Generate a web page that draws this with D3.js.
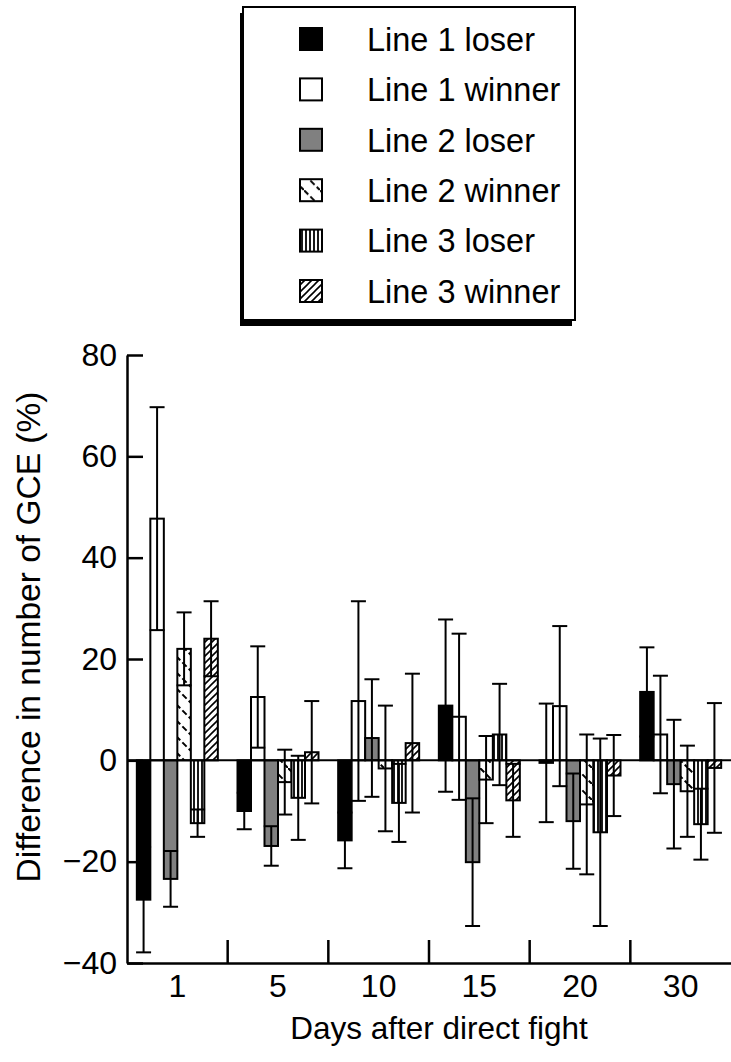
<!DOCTYPE html>
<html>
<head>
<meta charset="utf-8">
<script src="https://cdn.jsdelivr.net/npm/d3@7"></script>
<style>
    body { margin: 0; background: #fff; }
    svg { display: block; font-family: Arial, "Liberation Sans", Helvetica, sans-serif; }
</style>
</head>
<body>
<svg id="chart"></svg>
<script>
// days after the fight (x categories / tick labels)
const days = ['1', '5', '10', '15', '20', '30'];
const seriesNames = ['Line 1 loser', 'Line 1 winner', 'Line 2 loser', 'Line 2 winner', 'Line 3 loser', 'Line 3 winner'];

// means (%) per day
const line1Loser  = [-27.5, -10.0, -15.8, 10.8, -0.5, 13.5];
const line1Winner = [47.7, 12.5, 11.7, 8.6, 10.7, 5.1];
const line2Loser  = [-23.4, -16.9, 4.4, -20.1, -12.0, -4.7];
const line2Winner = [22.0, -4.3, -1.6, -3.8, -8.7, -6.1];
const line3Loser  = [-12.4, -7.4, -8.4, 5.1, -14.2, -12.6];
const line3Winner = [24.0, 1.6, 3.4, -7.9, -3.0, -1.5];

// standard errors
const line1LoserSe  = [10.4, 3.6, 5.5, 17.0, 11.7, 8.8];
const line1WinnerSe = [22.0, 10.0, 19.7, 16.4, 15.8, 11.6];
const line2LoserSe  = [5.5, 3.9, 11.6, 12.6, 9.4, 12.7];
const line2WinnerSe = [7.2, 6.4, 12.4, 8.6, 13.8, 9.0];
const line3LoserSe  = [2.7, 8.3, 7.7, 10.0, 18.5, 7.0];
const line3WinnerSe = [7.4, 10.1, 13.7, 7.2, 8.0, 12.8];

const yTicks = [-40, -20, 0, 20, 40, 60, 80];

(function () {
    const width = 731;
    const height = 1062;

    const means = [line1Loser, line1Winner, line2Loser, line2Winner, line3Loser, line3Winner];
    const ses = [line1LoserSe, line1WinnerSe, line2LoserSe, line2WinnerSe, line3LoserSe, line3WinnerSe];
    const fills = ['#000', '#fff', '#808080', 'url(#pat-l2w)', 'url(#pat-l3l)', 'url(#pat-l3w)'];

    const rows = [];
    seriesNames.forEach((name, si) => {
        days.forEach((day, di) => {
            rows.push({ day, name, mean: means[si][di], se: ses[si][di], fill: fills[si] });
        });
    });

    const svg = d3.select('#chart')
        .attr('width', width)
        .attr('height', height);

    // hatch patterns
    const defs = svg.append('defs');

    const p2w = defs.append('pattern')
        .attr('id', 'pat-l2w')
        .attr('patternUnits', 'userSpaceOnUse')
        .attr('width', 16)
        .attr('height', 16);
    p2w.append('rect').attr('width', 16).attr('height', 16).attr('fill', '#fff');
    p2w.append('path')
        .attr('d', 'M0,0L16,16')
        .attr('stroke', '#000')
        .attr('stroke-width', 2)
        .attr('stroke-dasharray', '6 3');

    const p3l = defs.append('pattern')
        .attr('id', 'pat-l3l')
        .attr('patternUnits', 'userSpaceOnUse')
        .attr('width', 4)
        .attr('height', 4);
    p3l.append('rect').attr('width', 4).attr('height', 4).attr('fill', '#fff');
    p3l.append('path')
        .attr('d', 'M2,0V4')
        .attr('stroke', '#000')
        .attr('stroke-width', 1.8);

    const p3w = defs.append('pattern')
        .attr('id', 'pat-l3w')
        .attr('patternUnits', 'userSpaceOnUse')
        .attr('width', 7)
        .attr('height', 7);
    p3w.append('rect').attr('width', 7).attr('height', 7).attr('fill', '#fff');
    p3w.append('path')
        .attr('d', 'M-1,1L1,-1M0,7L7,0M6,8L8,6')
        .attr('stroke', '#000')
        .attr('stroke-width', 1.6);

    // scales
    const x0 = d3.scaleBand()
        .domain(days)
        .range([127, 731]);

    const x1 = d3.scaleBand()
        .domain(seriesNames)
        .range([-40.5, 40.5]);

    const yScale = d3.scaleLinear()
        .domain([-40, 80])
        .range([963, 355]);

    const cx = d => x0(d.day) + x0.bandwidth() / 2 + x1(d.name);

    // bars
    svg.append('g')
        .selectAll('rect')
        .data(rows)
        .join('rect')
        .attr('x', d => cx(d))
        .attr('y', d => yScale(Math.max(0, d.mean)))
        .attr('width', x1.bandwidth())
        .attr('height', d => Math.abs(yScale(d.mean) - yScale(0)))
        .attr('fill', d => d.fill)
        .attr('stroke', '#000')
        .attr('stroke-width', 2);

    // error bars
    const capW = x1.bandwidth() + 1.5;
    const err = svg.append('g')
        .attr('stroke', '#000')
        .attr('stroke-width', 2)
        .selectAll('g')
        .data(rows)
        .join('g')
        .attr('transform', d => `translate(${cx(d) + x1.bandwidth() / 2},0)`);

    err.append('line')
        .attr('y1', d => yScale(d.mean - d.se))
        .attr('y2', d => yScale(d.mean + d.se));

    err.append('line')
        .attr('x1', -capW / 2)
        .attr('x2', capW / 2)
        .attr('y1', d => yScale(d.mean + d.se))
        .attr('y2', d => yScale(d.mean + d.se));

    err.append('line')
        .attr('x1', -capW / 2)
        .attr('x2', capW / 2)
        .attr('y1', d => yScale(d.mean - d.se))
        .attr('y2', d => yScale(d.mean - d.se));

    // zero line
    svg.append('line')
        .attr('x1', 127)
        .attr('x2', 731)
        .attr('y1', yScale(0))
        .attr('y2', yScale(0))
        .attr('stroke', '#000')
        .attr('stroke-width', 2);

    // y axis, ticks pointing inward
    const yAxis = svg.append('g')
        .attr('transform', 'translate(127,0)')
        .call(d3.axisLeft(yScale)
            .tickValues(yTicks)
            .tickSize(-16)
            .tickSizeOuter(0)
            .tickPadding(10));
    yAxis.select('.domain').attr('stroke-width', 2.5);
    yAxis.selectAll('.tick line').attr('stroke-width', 2.5);
    yAxis.selectAll('.tick text')
        .attr('font-size', 32)
        .attr('font-family', null)
        .attr('fill', '#000');

    // x axis: labels centred, ticks between groups
    const xAxis = svg.append('g')
        .attr('transform', 'translate(0,963)')
        .call(d3.axisBottom(x0).tickSize(0).tickPadding(11));
    xAxis.select('.domain').attr('stroke-width', 2.5);
    xAxis.selectAll('.tick text')
        .attr('font-size', 32)
        .attr('font-family', null)
        .attr('fill', '#000');

    svg.append('g')
        .selectAll('line')
        .data(days.slice(1))
        .join('line')
        .attr('x1', d => x0(d))
        .attr('x2', d => x0(d))
        .attr('y1', 963)
        .attr('y2', 940)
        .attr('stroke', '#000')
        .attr('stroke-width', 2.5);

    // axis titles
    svg.append('text')
        .attr('transform', 'translate(40,637) rotate(-90)')
        .attr('text-anchor', 'middle')
        .attr('font-size', 33.5)
        .text('Difference in number of GCE (%)');

    svg.append('text')
        .attr('x', 439)
        .attr('y', 1039)
        .attr('text-anchor', 'middle')
        .attr('font-size', 31.5)
        .text('Days after direct fight');

    // legend with drop shadow
    const legend = svg.append('g');
    legend.append('rect')
        .attr('x', 240)
        .attr('y', 13)
        .attr('width', 332)
        .attr('height', 313)
        .attr('fill', '#000');
    legend.append('rect')
        .attr('x', 243)
        .attr('y', 7)
        .attr('width', 332)
        .attr('height', 313)
        .attr('fill', '#fff')
        .attr('stroke', '#000')
        .attr('stroke-width', 2);

    const item = legend.selectAll('.item')
        .data(seriesNames)
        .join('g')
        .attr('class', 'item')
        .attr('transform', (d, i) => `translate(0,${39 + i * 50.4})`);

    item.append('rect')
        .attr('x', 300)
        .attr('y', -11)
        .attr('width', 22)
        .attr('height', 22)
        .attr('fill', (d, i) => fills[i])
        .attr('stroke', '#000')
        .attr('stroke-width', 2);

    item.append('text')
        .attr('x', 367)
        .attr('dy', '0.36em')
        .attr('font-size', 32.5)
        .text(d => d);
})();
</script>
</body>
</html>
